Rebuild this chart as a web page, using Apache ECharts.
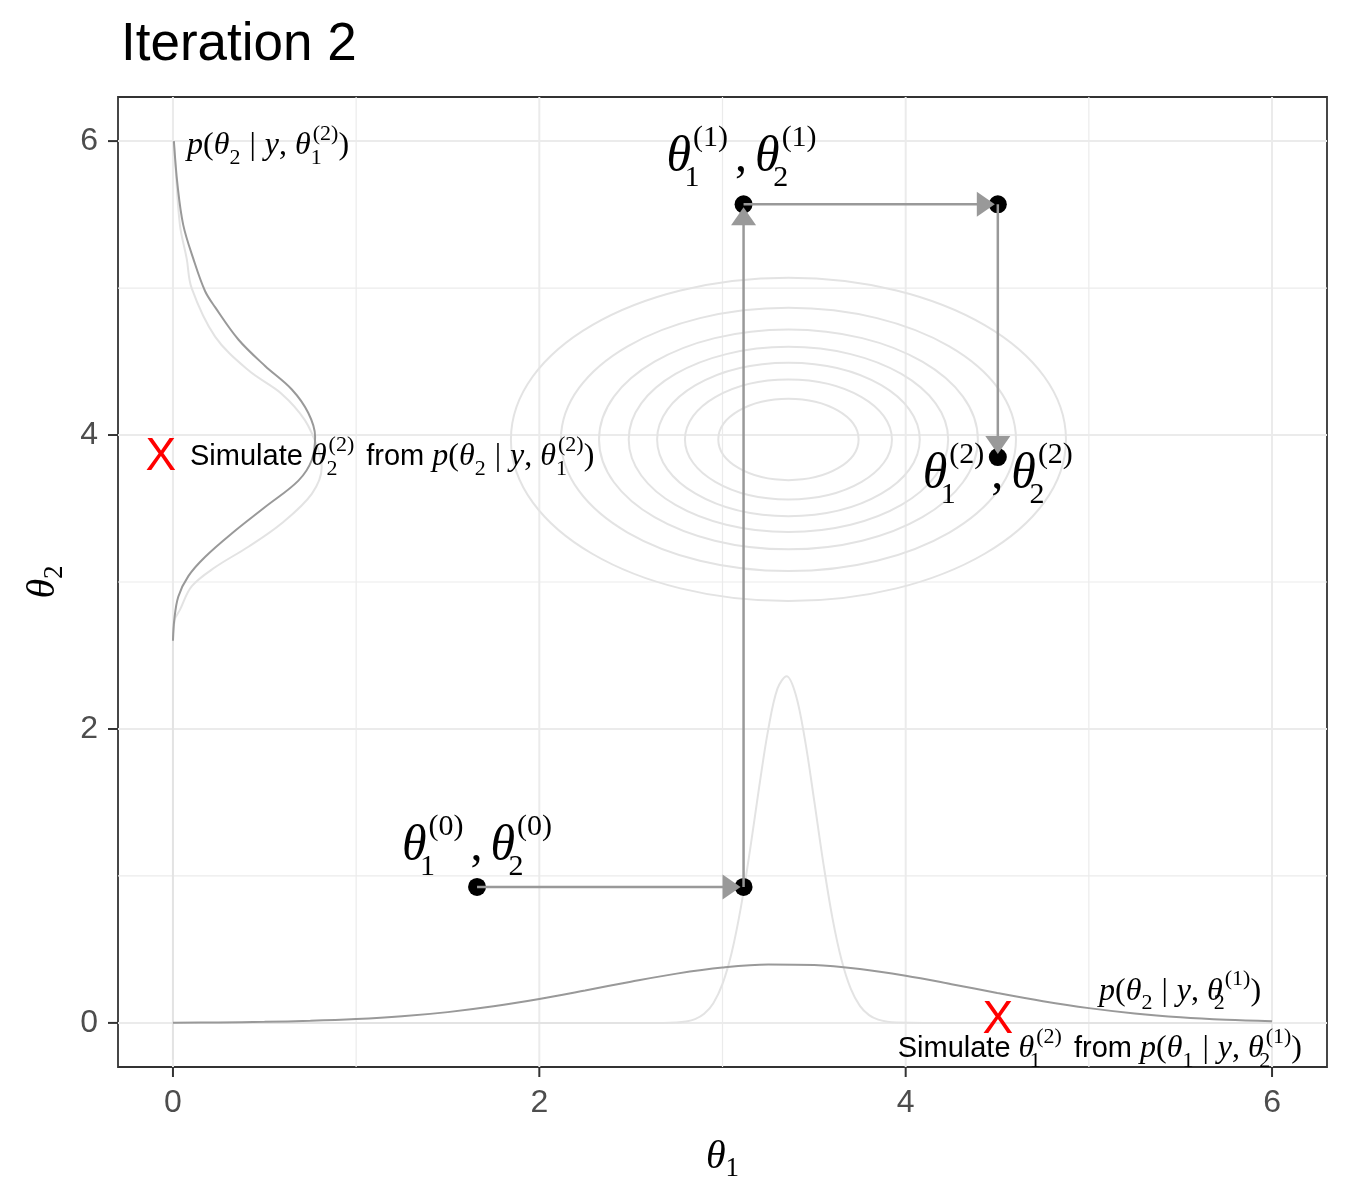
<!DOCTYPE html>
<html><head><meta charset="utf-8">
<script src="https://cdn.jsdelivr.net/npm/echarts@6/dist/echarts.min.js"></script>
<style>html,body{margin:0;padding:0;background:#fff}#c{width:1350px;height:1200px}</style>
</head><body><div id="c"></div>
<script>
// ---------- data ----------
const tickValues = [0, 2, 4, 6];
const majorGrid = [0, 2, 4, 6];
const minorGrid = [1, 3, 5];
const axisMin = -0.3;
const axisMax = 6.3;

// Gibbs chain points (theta1, theta2)
const chainX = [1.66, 3.115, 3.115, 4.503, 4.503];
const chainY = [0.925, 0.925, 5.57, 5.57, 3.85];
const chainLabelIdx = [0, 2, 4];
const chainLabelIter = ['0', '1', '2'];

// contour ellipses of the joint posterior
const contourCenterX = 3.36;
const contourCenterY = 3.97;
const contourHalfW = [1.515, 1.242, 1.034, 0.872, 0.717, 0.565, 0.383];
const contourHalfH = [1.10, 0.896, 0.748, 0.630, 0.522, 0.408, 0.277];

// wide conditional density along theta1 (dark)
const wideX = [0, 0.25, 0.5, 0.75, 1.0, 1.25, 1.5, 1.75, 2.0, 2.25, 2.5, 2.75, 3.0, 3.25, 3.5, 3.75, 4.0, 4.25, 4.5, 4.75, 5.0, 5.25, 5.5, 5.75, 6.0];
const wideY = [0.0015, 0.0034, 0.0071, 0.0139, 0.0258, 0.0449, 0.0734, 0.1127, 0.1625, 0.2203, 0.2803, 0.3353, 0.3766, 0.3974, 0.3939, 0.3668, 0.3209, 0.2637, 0.2036, 0.1476, 0.1006, 0.0644, 0.0387, 0.0219, 0.0116];

// narrow density along theta1 (light, previous iteration)
const narrowX = [0, 1.5, 2.6, 2.75, 2.8, 2.85, 2.9, 2.95, 3.0, 3.05, 3.1, 3.15, 3.2, 3.25, 3.3, 3.35, 3.4, 3.45, 3.5, 3.55, 3.6, 3.65, 3.7, 3.75, 3.8, 3.85, 3.9, 3.95, 4.1, 5.0, 6.0];
const narrowY = [0, 0, 0, 0.0035, 0.010, 0.026, 0.062, 0.134, 0.265, 0.477, 0.784, 1.174, 1.604, 1.999, 2.274, 2.359, 2.233, 1.927, 1.518, 1.091, 0.715, 0.428, 0.233, 0.116, 0.053, 0.022, 0.008, 0.003, 0, 0, 0];

// density along theta2 drawn sideways (dark: current)
const leftDarkDens  = [0, 0.007, 0.029, 0.084, 0.175, 0.321, 0.503, 0.685, 0.758, 0.776, 0.739, 0.649, 0.503, 0.357, 0.23, 0.175, 0.111, 0.056, 0.025, 0.005];
const leftDarkTheta = [2.60, 2.74, 2.90, 3.04, 3.17, 3.33, 3.51, 3.69, 3.83, 3.99, 4.15, 4.31, 4.47, 4.65, 4.87, 4.98, 5.20, 5.43, 5.70, 6.00];

// density along theta2 drawn sideways (light: previous)
const leftLightDens  = [0, 0, 0, 0.009, 0.038, 0.102, 0.23, 0.412, 0.594, 0.758, 0.812, 0.794, 0.721, 0.594, 0.412, 0.23, 0.102, 0.075, 0.038, 0.011, 0.004];
const leftLightTheta = [-0.25, 1.5, 2.55, 2.74, 2.81, 2.97, 3.10, 3.24, 3.40, 3.60, 3.78, 3.90, 4.10, 4.28, 4.44, 4.67, 5.00, 5.20, 5.43, 5.88, 6.00];

// simulated draws (red X)
const simX = [-0.066, 4.503];
const simY = [3.85, 0.02];

// text annotations
const annotX = [0.077, 0.093, 5.94, 5.06];
const annotY = [5.966, 3.85, 0.213, -0.177];
const annotText = [
  '{m|p}{r|(}{m|θ}{q|2}{b||}{m|y}{r|, }{m|θ}{k|1}{u|(2)}{r|)}',
  '{s|Simulate }{m|θ}{k|2}{u|(2)}{f|from }{m|p}{r|(}{m|θ}{q|2}{b||}{m|y}{r|, }{m|θ}{k|1}{u|(2)}{r|)}',
  '{m|p}{r|(}{m|θ}{q|2}{b||}{m|y}{r|, }{m|θ}{k|2}{u|(1)}{r|)}',
  '{s|Simulate }{m|θ}{k|1}{u|(2)}{f|from }{m|p}{r|(}{m|θ}{q|1}{b||}{m|y}{r|, }{m|θ}{k|2}{u|(1)}{r|)}'
];
const annotAlign = ['left', 'left', 'right', 'center'];

// ---------- styling ----------
const SERIF = 'Liberation Serif';
const SANS = 'Liberation Sans';
const DARK = '#999999';
const LIGHT = '#e3e3e3';
const GRID = '#ebebeb';
const chainLabelOffset = [[0, -40], [-2, -46], [0, 18]];
const TICK_LEN = 10;

const zip = (a, b) => a.map((v, i) => [v, b[i]]);

const bigRich = {
  t: {fontFamily: SERIF, fontStyle: 'italic', fontSize: 50, lineHeight: 70, verticalAlign: 'middle', color: '#000'},
  bs: {fontFamily: SERIF, fontSize: 30, lineHeight: 33, verticalAlign: 'bottom', width: 2, color: '#000'},
  bp: {fontFamily: SERIF, fontSize: 30, lineHeight: 33, verticalAlign: 'top', color: '#000'},
  c: {fontFamily: SERIF, fontSize: 48, lineHeight: 70, verticalAlign: 'middle', padding: [0, 8, 0, 7], color: '#000'}
};
const annRich = {
  s: {fontFamily: SANS, fontSize: 29, lineHeight: 46, verticalAlign: 'middle', color: '#000'},
  f: {fontFamily: SANS, fontSize: 29, lineHeight: 46, verticalAlign: 'middle', padding: [0, 0, 0, 12], color: '#000'},
  m: {fontFamily: SERIF, fontStyle: 'italic', fontSize: 32, lineHeight: 46, verticalAlign: 'middle', color: '#000'},
  r: {fontFamily: SERIF, fontSize: 32, lineHeight: 46, verticalAlign: 'middle', color: '#000'},
  b: {fontFamily: SERIF, fontSize: 32, lineHeight: 46, verticalAlign: 'middle', padding: [0, 9, 0, 9], color: '#000'},
  k: {fontFamily: SERIF, fontSize: 22, lineHeight: 25, verticalAlign: 'bottom', width: 2, color: '#000'},
  q: {fontFamily: SERIF, fontSize: 22, lineHeight: 25, verticalAlign: 'bottom', color: '#000'},
  u: {fontFamily: SERIF, fontSize: 22, lineHeight: 23, verticalAlign: 'top', color: '#000'}
};
const axisNameRich = {
  t: {fontFamily: SERIF, fontStyle: 'italic', fontSize: 40, lineHeight: 50, verticalAlign: 'middle', color: '#000'},
  s: {fontFamily: SERIF, fontSize: 27, lineHeight: 30, verticalAlign: 'bottom', color: '#000'}
};

function gridLineItem(vertical, width) {
  return function (params, api) {
    const cs = params.coordSys;
    if (vertical) {
      const p = api.coord([api.value(0), 0]);
      return {type: 'line', shape: {x1: p[0], y1: cs.y, x2: p[0], y2: cs.y + cs.height}, style: {stroke: GRID, lineWidth: width}};
    }
    const p = api.coord([0, api.value(1)]);
    return {type: 'line', shape: {x1: cs.x, y1: p[1], x2: cs.x + cs.width, y2: p[1]}, style: {stroke: GRID, lineWidth: width}};
  };
}

const arrowData = [];
for (let i = 0; i < chainX.length - 1; i++) arrowData.push([chainX[i], chainY[i], chainX[i + 1], chainY[i + 1]]);

const axisCommon = {
  type: 'value', min: axisMin, max: axisMax,
  splitLine: {show: false},
  axisLine: {show: false, onZero: false},
  axisTick: {show: false},
  axisLabel: {customValues: tickValues, color: '#4d4d4d', fontSize: 32, fontFamily: SANS, margin: 20},
  nameLocation: 'middle',
  nameTextStyle: {rich: axisNameRich}
};

const option = {
  animation: false,
  backgroundColor: '#fff',
  title: {text: 'Iteration 2', left: 116, top: 14, textStyle: {fontFamily: SANS, fontSize: 53, fontWeight: 'normal', color: '#000'}},
  grid: {left: 118, right: 23, top: 97, bottom: 133, show: true, borderColor: '#333', borderWidth: 1.8, backgroundColor: '#fff', outerBoundsMode: 'none', containLabel: false},
  xAxis: Object.assign({}, axisCommon, {name: '{t|θ}{s|1}', nameGap: 65}),
  yAxis: Object.assign({}, axisCommon, {name: '{t|θ}{s|2}', nameGap: 50}),
  series: [
    {type: 'custom', z: 1, silent: true, data: minorGrid.map(v => [v, 0]), renderItem: gridLineItem(true, 1.2)},
    {type: 'custom', z: 1, silent: true, data: minorGrid.map(v => [0, v]), renderItem: gridLineItem(false, 1.2)},
    {type: 'custom', z: 1, silent: true, data: majorGrid.map(v => [v, 0]), renderItem: gridLineItem(true, 2)},
    {type: 'custom', z: 1, silent: true, data: majorGrid.map(v => [0, v]), renderItem: gridLineItem(false, 2)},
    {
      type: 'custom', z: 2, silent: true,
      data: contourHalfW.map((w, i) => [contourCenterX, contourCenterY, w, contourHalfH[i]]),
      renderItem: function (params, api) {
        const c = api.coord([api.value(0), api.value(1)]);
        const s = api.size([api.value(2), api.value(3)]);
        return {type: 'ellipse', shape: {cx: c[0], cy: c[1], rx: s[0], ry: s[1]}, style: {fill: 'none', stroke: LIGHT, lineWidth: 2}};
      }
    },
    {type: 'line', z: 3, silent: true, data: zip(narrowX, narrowY), showSymbol: false, symbol: 'none', smooth: 0.35, lineStyle: {color: LIGHT, width: 2}},
    {type: 'line', z: 3, silent: true, data: zip(leftLightDens, leftLightTheta), showSymbol: false, symbol: 'none', smooth: 0.35, lineStyle: {color: LIGHT, width: 2}},
    {type: 'line', z: 4, silent: true, data: zip(wideX, wideY), showSymbol: false, symbol: 'none', smooth: 0.35, lineStyle: {color: DARK, width: 2}},
    {type: 'line', z: 4, silent: true, data: zip(leftDarkDens, leftDarkTheta), showSymbol: false, symbol: 'none', smooth: 0.35, lineStyle: {color: DARK, width: 2}},
    {type: 'scatter', z: 5, silent: true, data: zip(chainX, chainY), symbolSize: 18, itemStyle: {color: '#000', opacity: 1}},
    {
      type: 'custom', z: 6, silent: true, data: arrowData,
      renderItem: function (params, api) {
        const p1 = api.coord([api.value(0), api.value(1)]);
        const p2 = api.coord([api.value(2), api.value(3)]);
        const dx = p2[0] - p1[0], dy = p2[1] - p1[1];
        const len = Math.hypot(dx, dy);
        const ux = dx / len, uy = dy / len;
        const tipBack = 3, headLen = 18, headHalf = 12.5;
        const tip = [p2[0] - ux * tipBack, p2[1] - uy * tipBack];
        const base = [tip[0] - ux * headLen, tip[1] - uy * headLen];
        const nx = -uy, ny = ux;
        return {type: 'group', children: [
          {type: 'line', shape: {x1: p1[0], y1: p1[1], x2: base[0] + ux * 2, y2: base[1] + uy * 2}, style: {stroke: DARK, lineWidth: 2.5}},
          {type: 'polygon', shape: {points: [tip, [base[0] + nx * headHalf, base[1] + ny * headHalf], [base[0] - nx * headHalf, base[1] - ny * headHalf]]}, style: {fill: DARK}}
        ]};
      }
    },
    {
      type: 'scatter', z: 7, silent: true, symbolSize: 1, itemStyle: {color: 'rgba(0,0,0,0)', opacity: 1},
      data: chainLabelIdx.map((idx, j) => ({
        value: [chainX[idx], chainY[idx]],
        label: {
          show: true, position: 'inside', offset: chainLabelOffset[j], rich: bigRich, color: '#000',
          formatter: '{t|θ}{bs|1}{bp|(' + chainLabelIter[j] + ')}{c|,}{t|θ}{bs|2}{bp|(' + chainLabelIter[j] + ')}'
        }
      }))
    },
    {
      type: 'scatter', z: 7, silent: true, symbolSize: 1, itemStyle: {color: 'rgba(0,0,0,0)', opacity: 1},
      data: zip(simX, simY),
      label: {show: true, position: 'inside', formatter: 'X', color: '#ff0000', fontFamily: SANS, fontSize: 46}
    },
    {
      type: 'scatter', z: 7, silent: true, symbolSize: 1, itemStyle: {color: 'rgba(0,0,0,0)', opacity: 1},
      data: annotX.map((x, i) => ({
        value: [x, annotY[i]],
        label: {show: true, position: 'inside', align: annotAlign[i], verticalAlign: 'middle', color: '#000', rich: annRich, formatter: annotText[i]}
      }))
    }
  ]
};
const chart = echarts.init(document.getElementById('c'));
chart.setOption(option);

// axis tick marks outside the panel, placed through the chart's own scales
const tickGfx = [];
tickValues.forEach(function (v) {
  const pb = chart.convertToPixel({gridIndex: 0}, [v, axisMin]);
  tickGfx.push({type: 'line', z: 100, silent: true, shape: {x1: pb[0], y1: pb[1], x2: pb[0], y2: pb[1] + TICK_LEN}, style: {stroke: '#333', lineWidth: 2}});
  const pl = chart.convertToPixel({gridIndex: 0}, [axisMin, v]);
  tickGfx.push({type: 'line', z: 100, silent: true, shape: {x1: pl[0] - TICK_LEN, y1: pl[1], x2: pl[0], y2: pl[1]}, style: {stroke: '#333', lineWidth: 2}});
});
chart.setOption({graphic: {elements: tickGfx}});
</script>
</body></html>
